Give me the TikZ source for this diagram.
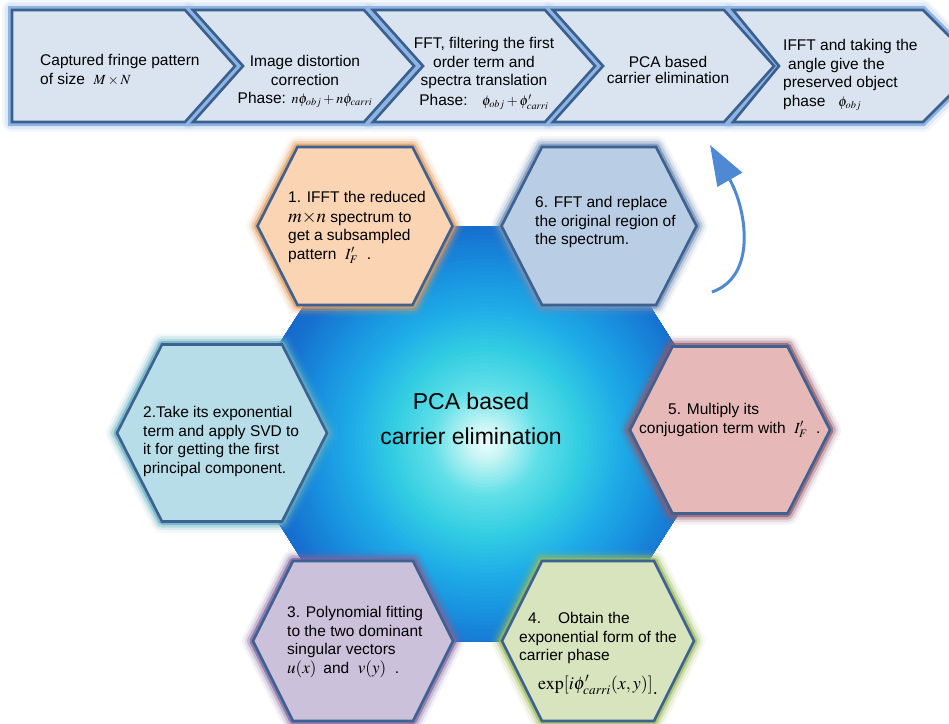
\documentclass[tikz,border=0pt]{standalone}
\usepackage{mathptmx}
\usepackage[no-math]{fontspec}
\setmainfont{Liberation Sans}
\usetikzlibrary{arrows.meta}

% palette
\definecolor{chevfill}{HTML}{DAE4F0}
\definecolor{chevedge}{HTML}{3B5F8F}
\definecolor{chevrim}{HTML}{8DB4E2}
\definecolor{hexedge}{HTML}{3D6190}
\definecolor{peach}{HTML}{FBD4B4}   \definecolor{peachglow}{HTML}{E39A5B}
\definecolor{steel}{HTML}{B9CDE5}   \definecolor{steelglow}{HTML}{7391B8}
\definecolor{aqua}{HTML}{B7DDE8}    \definecolor{aquaglow}{HTML}{62AEC2}
\definecolor{rose}{HTML}{E6B9B8}    \definecolor{roseglow}{HTML}{93566A}
\definecolor{lilac}{HTML}{CCC1DA}   \definecolor{lilacglow}{HTML}{7E649F}
\definecolor{sage}{HTML}{D7E4BD}    \definecolor{sageglow}{HTML}{9BBB59}
\definecolor{arrowblue}{HTML}{4F88D3}
% core gradient stops, from the rim inwards
\definecolor{coreH}{HTML}{1462C6}
\definecolor{coreG}{HTML}{1670D0}
\definecolor{coreF}{HTML}{1890DE}
\definecolor{coreE}{HTML}{1FADE8}
\definecolor{coreD}{HTML}{33CDE2}
\definecolor{coreC}{HTML}{62E0E8}
\definecolor{coreB}{HTML}{C0F4F4}
\definecolor{coreA}{HTML}{F2FFFF}

\tikzset{
  lbl/.style={font=\fontsize{15.5}{18.6}\selectfont, inner sep=0pt, text=black},
  corelbl/.style={font=\fontsize{23}{35}\selectfont, inner sep=0pt, text=black, align=center},
}
\newcommand\mth[1]{{\fontsize{14}{14}\selectfont$#1$}}

% chevron rim and face: #1 left x, #2 right (top corner) x, #3 notch depth (0 = flat back), #4 point depth
\newcommand\chevron[4]{%
  \foreach \w/\o in {20/0.10, 15/0.18} {
    \draw[chevrim, line width=\w pt, opacity=\o, line join=round] (#1,10) -- (#2,10) -- (#2+#4,66) -- (#2,122) -- (#1,122) -- (#1+#3,66) -- cycle;
  }
  \draw[chevrim, line width=8pt] (#1,10) -- (#2,10) -- (#2+#4,66) -- (#2,122) -- (#1,122) -- (#1+#3,66) -- cycle;
}
\newcommand\chevronface[4]{%
  \draw[fill=chevfill, draw=chevedge, line width=2.6pt] (#1,10) -- (#2,10) -- (#2+#4,66) -- (#2,122) -- (#1,122) -- (#1+#3,66) -- cycle;
}

% hexagon cell: #1 name, #2 cx, #3 cy, #4 half width, #5 half top edge, #6 half height, #7 fill, #8 glow
\newcommand\hexcell[8]{%
  \foreach \w/\o in {22/0.08, 17/0.15, 12/0.3, 7/0.7} {
    \draw[#8, line width=\w pt, opacity=\o, line join=round]
      (#2-#4,#3) -- (#2-#5,#3-#6) -- (#2+#5,#3-#6) -- (#2+#4,#3) -- (#2+#5,#3+#6) -- (#2-#5,#3+#6) -- cycle;
  }
  \draw[fill=#7, draw=hexedge, line width=2.6pt]
    (#2-#4,#3) -- (#2-#5,#3-#6) -- (#2+#5,#3-#6) -- (#2+#4,#3) -- (#2+#5,#3+#6) -- (#2-#5,#3+#6) -- cycle;
  \coordinate (#1) at (#2,#3);
}

\begin{document}
\begin{tikzpicture}[x=1pt, y=-1pt]
\useasboundingbox (0,0) rectangle (949,723);
\fill[white] (0,0) rectangle (949,723);
\clip (0,0) rectangle (949,723);

% ---- process row ----
\chevron{12}{185}{0}{50}
\chevron{193}{364}{50}{50}
\chevron{373}{545}{50}{50}
\chevron{553}{724}{50}{50}
\chevron{733}{923}{46}{56}
\chevronface{12}{185}{0}{50}
\chevronface{193}{364}{50}{50}
\chevronface{373}{545}{50}{50}
\chevronface{553}{724}{50}{50}
\chevronface{733}{923}{46}{56}

\node[lbl, anchor=north west, align=left] (c1) at (40,54)
  {Captured fringe pattern\\of size \ \mth{M\times N}};
\node[lbl, anchor=north, align=center] (c2) at (305,55)
  {Image distortion\\correction\\Phase: \mth{n\phi_{obj}+n\phi_{carri}}};
\node[lbl, anchor=north, align=center] (c3) at (484,37)
  {FFT, filtering the first\\order term and\\spectra translation\\[1pt]Phase: \ \ \mth{\phi_{obj}+\phi'_{carri}}};
\node[lbl, anchor=north, align=center, font=\fontsize{15.5}{16.5}\selectfont] (c4) at (668,56)
  {PCA based\\carrier elimination};
\node[lbl, anchor=north west, align=left] (c5) at (783,39)
  {IFFT and taking the\\\hspace*{5pt}angle give the\\preserved object\\phase \ \ \mth{\phi_{obj}}};

% ---- central hexagon with a radial glow built from rings ----
\begin{scope}
  \clip (355,226) -- (599,226) -- (730,432) -- (598,641) -- (353,641) -- (222,433) -- cycle;
  \fill[coreH] (200,160) rectangle (780,730);
  \foreach \ra/\rb/\ca/\cb in {290/250/coreH/coreH, 250/215/coreH/coreG, 215/175/coreG/coreF,
      175/135/coreF/coreE, 135/95/coreE/coreD, 95/55/coreD/coreC, 55/22/coreC/coreB, 22/0/coreB/coreA} {
    \foreach \i in {0,...,9} {
      \pgfmathsetmacro\rr{\ra-(\ra-\rb)*\i/10}
      \pgfmathtruncatemacro\pp{10*\i}
      \fill[\cb!\pp!\ca] (486,442) circle (\rr);
    }
  }
\end{scope}

% ---- surrounding cells ----
\hexcell{h1}{355}{226}{97.5}{57.5}{79}{peach}{peachglow}
\hexcell{h6}{599}{226}{97.5}{57}{79}{steel}{steelglow}
\hexcell{h2}{222}{433}{105}{60}{88.5}{aqua}{aquaglow}
\hexcell{h5}{730}{430}{100}{57.5}{83.5}{rose}{roseglow}
\hexcell{h3}{353}{641}{100}{60}{80}{lilac}{lilacglow}
\hexcell{h4}{598}{641}{96}{56}{80}{sage}{sageglow}

\node[corelbl] (core) at (471,419) {PCA based\\carrier elimination};

\node[lbl, anchor=north west, align=left] (t1) at (288,191)
  {1. IFFT the reduced\\[1pt]{\fontsize{19}{19}\selectfont$m{\times}n$} spectrum to\\get a subsampled\\pattern \ $I'_F$ \ .};
\node[lbl, anchor=north west, align=left] (t6) at (535,196)
  {6. FFT and replace\\the original region of\\the spectrum.};
\node[lbl, anchor=north west, align=left] (t2) at (143,406)
  {2.Take its exponential\\term and apply SVD to\\it for getting the first\\principal component.};
\node[lbl, anchor=north west, align=left] (t5) at (639,403)
  {\hspace*{29pt}5. Multiply its\\conjugation term with \ $I'_F$ \ .};
\node[lbl, anchor=north west, align=left] (t3) at (287,606)
  {3. Polynomial fitting\\to the two dominant\\singular vectors\\{\fontsize{17}{17}\selectfont$u(x)$} \,and \ {\fontsize{17}{17}\selectfont$v(y)$} \ .};
\node[lbl, anchor=north west, align=left] (t4) at (519,612)
  {\hspace*{9pt}4.\hspace{17pt}Obtain the\\exponential form of the\\carrier phase};
\node[inner sep=0pt, font=\fontsize{18}{18}\selectfont] (t4m) at (598,685)
  {$\exp[i\phi'_{carri}(x,y)]$\raisebox{-5pt}{.}};

% ---- return arrow ----
\coordinate (arrS) at (712,292);
\coordinate (arrE) at (710,145);
\draw[arrowblue, line width=3pt, -{Triangle[length=40pt, width=28pt]}]
  (arrS) .. controls (758,276) and (746,208) .. (arrE);

\end{tikzpicture}
\end{document}
